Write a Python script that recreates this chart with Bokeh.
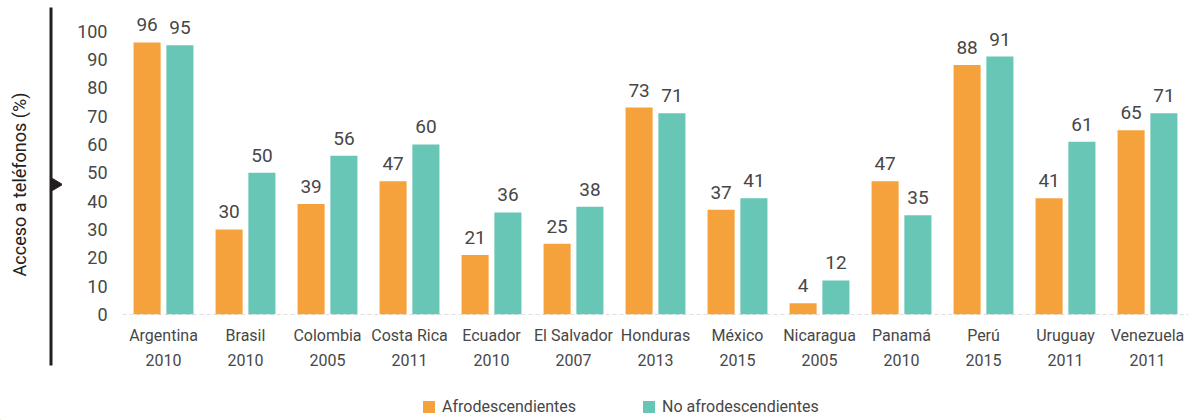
from bokeh.plotting import figure
from bokeh.layouts import row, column
from bokeh.models import (ColumnDataSource, FactorRange, Range1d, FixedTicker, Span,
                          Legend, LegendItem)
from bokeh.transform import dodge
from bokeh.core.properties import value
from bokeh.embed import file_html
from bokeh.resources import INLINE

countries = ["Argentina", "Brasil", "Colombia", "Costa Rica", "Ecuador", "El Salvador",
             "Honduras", "México", "Nicaragua", "Panamá", "Perú", "Uruguay", "Venezuela"]
years = ["2010", "2010", "2005", "2011", "2010", "2007", "2013", "2015", "2005", "2010",
         "2015", "2011", "2011"]
afro = [96, 30, 39, 47, 21, 25, 73, 37, 4, 47, 88, 41, 65]
no_afro = [95, 50, 56, 60, 36, 38, 71, 41, 12, 35, 91, 61, 71]
y_ticks = [0, 10, 20, 30, 40, 50, 60, 70, 80, 90, 100]
series_names = ["Afrodescendientes", "No afrodescendientes"]
y_title = "Acceso a teléfonos (%)"

FONT = "Roboto"
TXT = "#474747"
ORANGE = "#F5A23D"
TEAL = "#68C6B6"

cats = [f"{c}\n{y}" for c, y in zip(countries, years)]
src = ColumnDataSource(dict(cat=cats, afro=afro, no_afro=no_afro,
                            afro_lbl=[str(v) for v in afro],
                            no_lbl=[str(v) for v in no_afro]))

# ---- left decoration panel (axis title + black rule with arrow)
left = figure(width=62, height=390, x_range=Range1d(0, 62), y_range=Range1d(390, 0),
              toolbar_location=None, output_backend="svg",
              x_axis_location=None, y_axis_location=None, min_border=0)
left.frame_align = False
left.outline_line_color = None
left.grid.visible = False
left.segment(x0=[50.5], y0=[7], x1=[50.5], y1=[365], line_width=3, line_color="#231f20")
left.patch(x=[52, 62, 52], y=[178, 184, 190], fill_color="#231f20", line_color="#231f20")
left.text(x=[19], y=[184], text=[y_title], angle=1.5708, text_align="center",
          text_baseline="middle", text_font=value(FONT), text_font_size="18px",
          text_color="#222222")

# ---- main chart
p = figure(width=1128, height=390, x_range=FactorRange(*cats, range_padding=0),
           y_range=Range1d(0, 110.8), toolbar_location=None, output_backend="svg",
           min_border_left=60, min_border_right=2, min_border_top=0, min_border_bottom=76)
p.frame_align = False
p.outline_line_color = None
p.grid.visible = False
p.x_range.range_padding = 0
p.x_range.factor_padding = 0

base = Span(location=0, dimension="width", line_color="#bdbdbd", line_dash="4 3",
            line_width=1, level="underlay")
p.add_layout(base)

r1 = p.vbar(x=dodge("cat", -0.2, range=p.x_range), top="afro", width=0.33,
            source=src, fill_color=ORANGE, line_color=None)
r2 = p.vbar(x=dodge("cat", 0.2, range=p.x_range), top="no_afro", width=0.33,
            source=src, fill_color=TEAL, line_color=None)

p.text(x=dodge("cat", -0.2, range=p.x_range), y="afro", text="afro_lbl", source=src,
       text_align="center", text_baseline="bottom", y_offset=-11,
       text_font=value(FONT), text_font_size="19px", text_color=TXT)
p.text(x=dodge("cat", 0.2, range=p.x_range), y="no_afro", text="no_lbl", source=src,
       text_align="center", text_baseline="bottom", y_offset=-11,
       text_font=value(FONT), text_font_size="19px", text_color=TXT)

p.yaxis.ticker = FixedTicker(ticks=y_ticks)
p.yaxis.axis_line_color = None
p.yaxis.major_tick_line_color = None
p.yaxis.minor_tick_line_color = None
p.yaxis.major_tick_out = 0
p.yaxis.major_tick_in = 0
p.yaxis.major_label_standoff = 15
p.yaxis.major_label_text_font = FONT
p.yaxis.major_label_text_font_size = "18px"
p.yaxis.major_label_text_color = TXT

p.xaxis.axis_line_color = None
p.xaxis.major_tick_line_color = None
p.xaxis.major_tick_out = 0
p.xaxis.major_tick_in = 0
p.xaxis.major_label_standoff = 11
p.xaxis.major_label_text_font = FONT
p.xaxis.major_label_text_font_size = "16px"
p.xaxis.major_label_text_color = TXT
p.xaxis.major_label_text_line_height = 1.35

# ---- legend strip
legfig = figure(width=1190, height=30, x_range=Range1d(0, 1190), y_range=Range1d(0, 30),
                toolbar_location=None, output_backend="svg",
                x_axis_location=None, y_axis_location=None, min_border=0)
legfig.frame_align = False
legfig.outline_line_color = None
legfig.grid.visible = False
# one off-screen bar per series, only so that the legend has a glyph to draw
l1 = legfig.vbar(x=[-1000], top=[1], width=1, fill_color=ORANGE, line_color=None)
l2 = legfig.vbar(x=[-1000], top=[1], width=1, fill_color=TEAL, line_color=None)
for rend, name, x0 in [(l1, series_names[0], 421), (l2, series_names[1], 641)]:
    lg = Legend(items=[LegendItem(label=name, renderers=[rend])], location=(x0, 4),
                orientation="horizontal", padding=0, margin=0, border_line_color=None,
                background_fill_alpha=0, glyph_width=15, glyph_height=15,
                label_standoff=6, label_text_font=FONT, label_text_font_size="16px",
                label_text_color=TXT, label_height=15)
    legfig.add_layout(lg, "center")

layout = column(row(left, p, spacing=0), legfig, spacing=0)
open("out.html", "w").write(file_html(layout, INLINE))
